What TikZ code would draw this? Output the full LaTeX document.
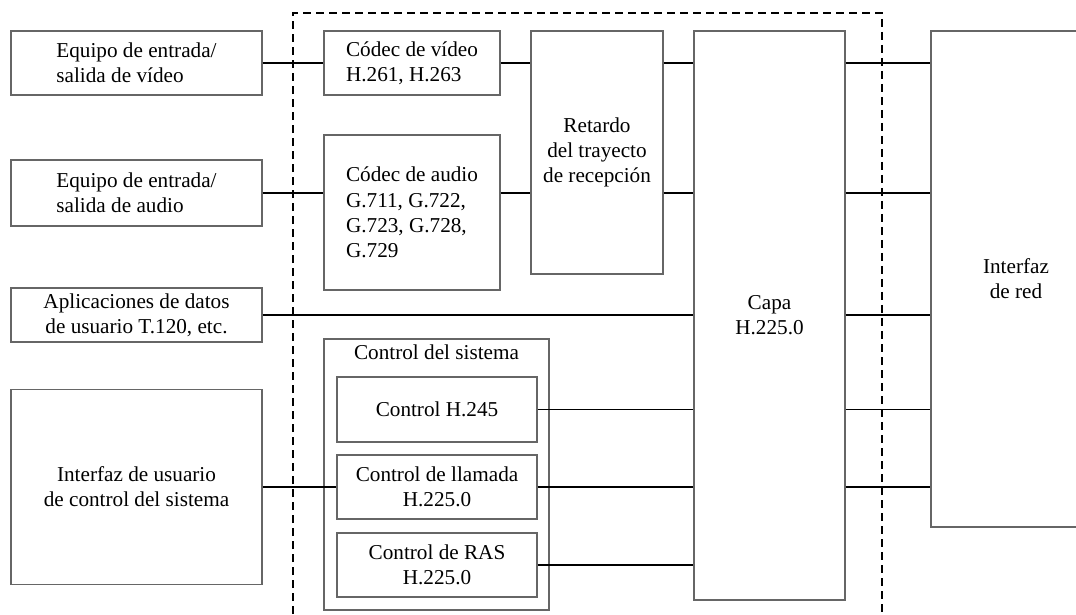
\documentclass[tikz,border=0pt]{standalone}
\usepackage{fontspec}
\setmainfont{Liberation Serif}
\usepackage{tikz}

\tikzset{
  bloque/.style={draw=black!60, line width=0.6pt, rectangle, inner sep=2pt,
    font=\fontsize{10.6}{12.6}\selectfont, align=center},
  titulo/.style={font=\fontsize{10.6}{12.6}\selectfont, anchor=north, inner sep=3pt},
  linea/.style={black, line width=0.6pt}
}

\begin{document}
\begin{tikzpicture}[x=0.5pt, y=-0.5pt]
    \useasboundingbox (0,0) rectangle (1076,615);
    \clip (0,0) rectangle (1076,615);
    % equipos terminales
    \node[bloque, align=left, minimum width=125.5pt, minimum height=32pt] (vid) at (136.5,63) {Equipo de entrada/\\salida de vídeo};
    \node[bloque, align=left, minimum width=125.5pt, minimum height=33pt] (aud) at (136.5,193) {Equipo de entrada/\\salida de audio};
    \node[bloque, minimum width=125.5pt, minimum height=27pt] (apl) at (136.5,315) {Aplicaciones de datos\\de usuario T.120, etc.};
    \node[bloque, minimum width=125.5pt, minimum height=97.5pt] (iu) at (136.5,487) {Interfaz de usuario\\de control del sistema};
    % zona punteada
    \draw[black, line width=0.6pt, dash pattern=on 4pt off 2.5pt] (293,640) -- (293,13) -- (882,13) -- (882,640);
    \node[bloque, align=left, minimum width=88pt, minimum height=32pt] (cvid) at (412,63) {Códec de vídeo\\H.261, H.263};
    \node[bloque, align=left, minimum width=88pt, minimum height=77.5pt] (caud) at (412,212.5) {Códec de audio\\G.711, G.722,\\G.723, G.728,\\G.729};
    \node[bloque, minimum width=66pt, minimum height=121.5pt] (ret) at (597,152.5) {Retardo\\del trayecto\\de recepción};
    \node[bloque, minimum width=75.5pt, minimum height=284.5pt] (capa) at (769.5,315.5) {Capa\\H.225.0};
    \node[bloque, minimum width=112.5pt, minimum height=135.5pt,
      label={[titulo]north:Control del sistema}] (sis) at (436.5,474.5) {};
    \node[bloque, minimum width=100pt, minimum height=32.5pt] (h245) at (437,409.5) {Control H.245};
    \node[bloque, minimum width=100pt, minimum height=32pt] (llam) at (437,487) {Control de llamada\\H.225.0};
    \node[bloque, minimum width=100pt, minimum height=32pt] (ras) at (437,565) {Control de RAS\\H.225.0};
    \node[bloque, minimum width=85pt, minimum height=248pt] (red) at (1016,279) {Interfaz\\de red};
    % conexiones
    \draw[linea] (vid) -- (cvid);
    \draw[linea] (cvid) -- (cvid -| ret.west);
    \draw[linea] (aud) -- (aud -| caud.west);
    \draw[linea] (aud -| caud.east) -- (aud -| ret.west);
    \draw[linea] (cvid -| ret.east) -- (cvid -| capa.west);
    \draw[linea] (aud -| ret.east) -- (aud -| capa.west);
    \draw[linea] (apl) -- (apl -| capa.west);
    \draw[linea] (h245) -- (h245 -| capa.west);
    \draw[linea] (iu) -- (llam);
    \draw[linea] (llam) -- (llam -| capa.west);
    \draw[linea] (ras) -- (ras -| capa.west);
    \foreach \n in {cvid,aud,apl,h245,llam}
    \draw[linea] (\n -| capa.east) -- (\n -| red.west);
\end{tikzpicture}
\end{document}
